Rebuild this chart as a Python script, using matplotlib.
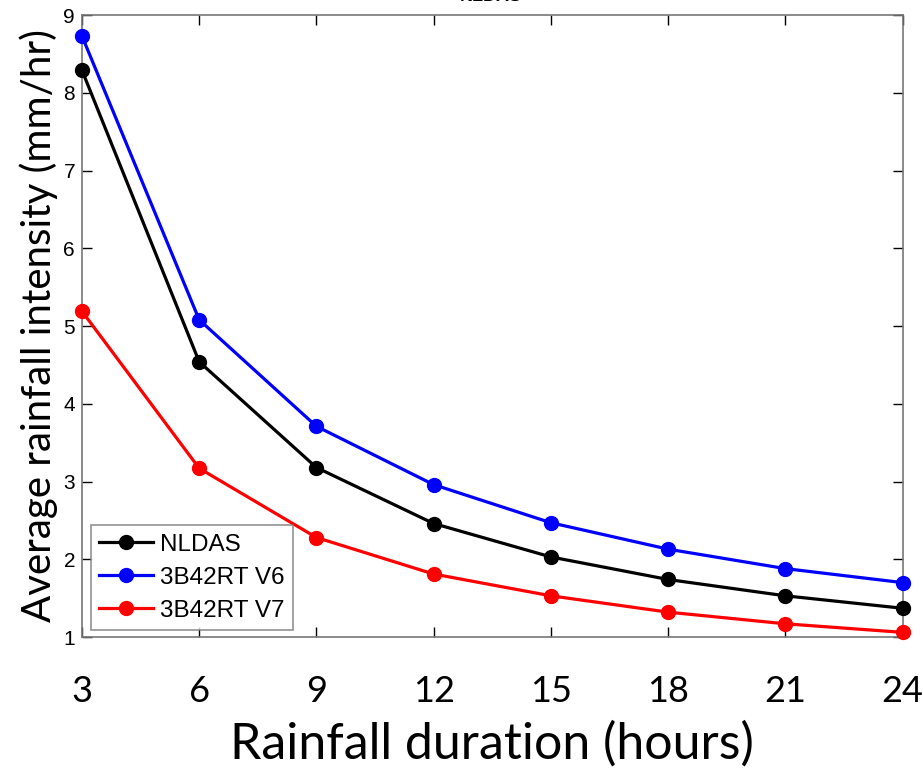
import numpy as np
import matplotlib.pyplot as plt

durations = [3, 6, 9, 12, 15, 18, 21, 24]
nldas = [8.29, 4.54, 3.18, 2.46, 2.03, 1.74, 1.53, 1.37]
v6 = [8.73, 5.08, 3.71, 2.96, 2.47, 2.13, 1.88, 1.70]
v7 = [5.19, 3.17, 2.28, 1.81, 1.53, 1.32, 1.17, 1.06]

fig = plt.figure(figsize=(9.23, 7.70), dpi=100)
ax = fig.add_axes([0.0888, 0.1727, 0.8890, 0.8078])

ax.plot(durations, nldas, '-o', color='black', lw=2.3, ms=10, label='NLDAS', clip_on=False, zorder=3)
ax.plot(durations, v6, '-o', color='blue', lw=2.3, ms=10, label='3B42RT V6', clip_on=False, zorder=3)
ax.plot(durations, v7, '-o', color='red', lw=2.3, ms=10, label='3B42RT V7', clip_on=False, zorder=3)

ax.set_xlim(3, 24)
ax.set_ylim(1, 9)
ax.set_xticks(durations)
ax.set_yticks(np.arange(1, 10))

for s in ax.spines.values():
    s.set_color('#777777')
    s.set_linewidth(1.2)
ax.tick_params(direction='in', top=True, right=True, length=7, width=1, color='black')
ax.tick_params(axis='x', labelsize=26, pad=27)
ax.tick_params(axis='y', labelsize=15, pad=5)
for t in ax.get_xticklabels():
    t.set_family('Lato')
for t in ax.get_yticklabels():
    t.set_family('Liberation Sans')

ax.set_xlabel('Rainfall duration (hours)', fontsize=36, family='Lato', labelpad=10)
ax.set_ylabel('Average rainfall intensity (mm/hr)', fontsize=29, family='Lato', labelpad=4)

fig.text(0.532, 0.9935, 'NLDAS', ha='center', va='bottom', fontsize=13, fontweight='bold',
         family='Liberation Sans')

leg = ax.legend(loc='lower left', bbox_to_anchor=(0.011, 0.011), frameon=True,
                fancybox=False, borderpad=0.35, handlelength=2.2, labelspacing=0.45,
                handletextpad=0.3, borderaxespad=0,
                prop={'family': 'Liberation Sans', 'size': 17.5})
leg.get_frame().set_edgecolor('#777777')
leg.get_frame().set_linewidth(1.2)

fig.savefig('out.png', dpi=100)
